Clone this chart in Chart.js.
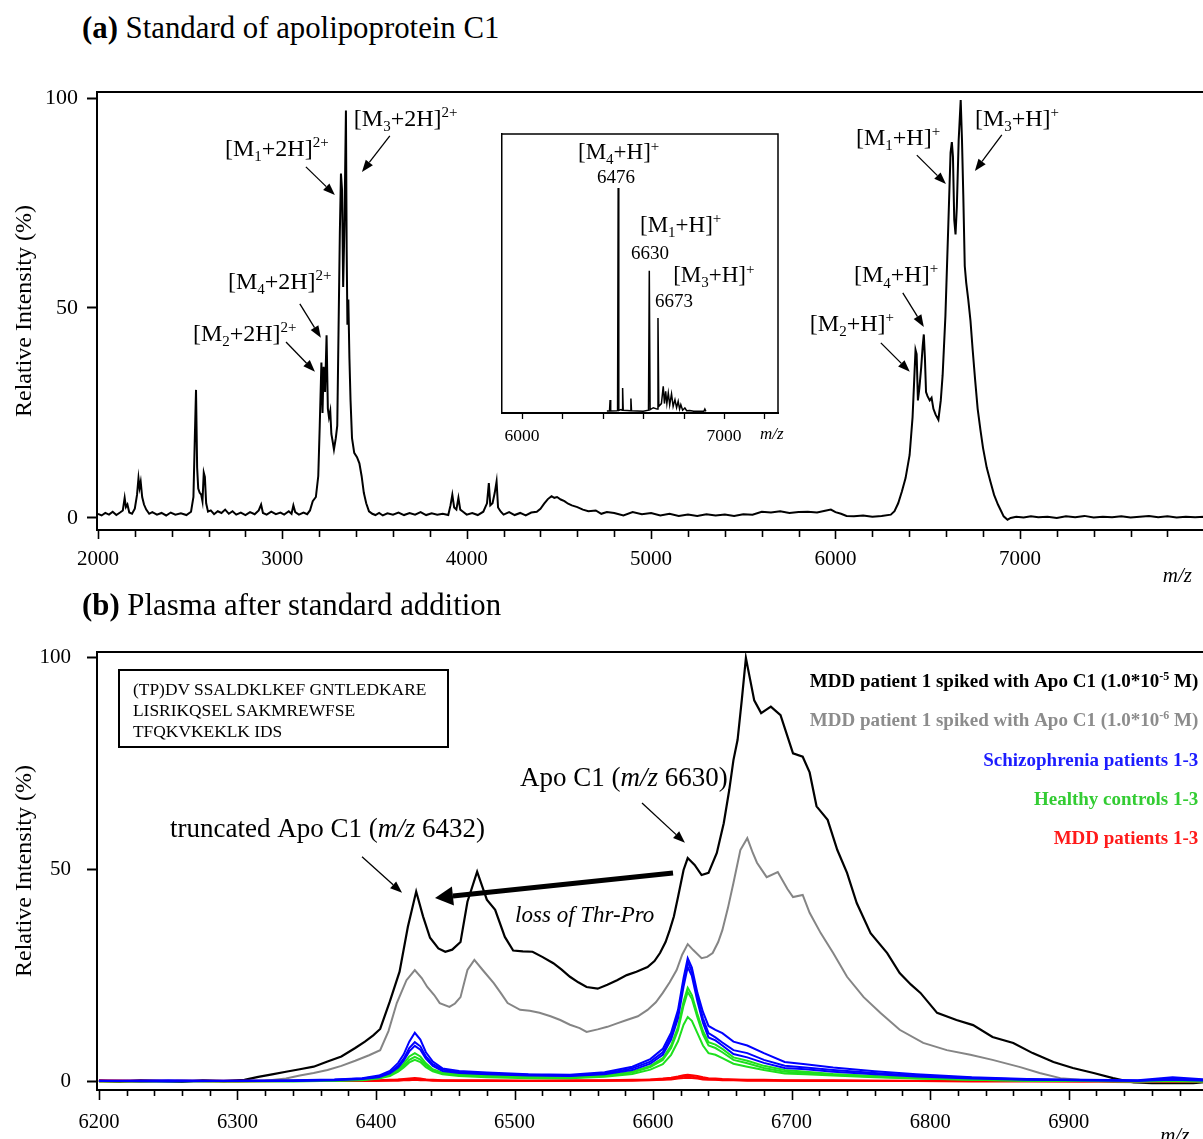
<!DOCTYPE html>
<html>
<head>
<meta charset="utf-8">
<script src="https://cdn.jsdelivr.net/npm/chart.js@4.4.1/dist/chart.umd.min.js"></script>
<style>
    html, body { margin: 0; padding: 0; background: #fff; }
    body { width: 1203px; height: 1139px; overflow: hidden; position: relative;
           font-family: "Liberation Serif", "Times New Roman", serif; }
    canvas { position: absolute; }
    .title { position: absolute; left: 82px; font-size: 30.8px; line-height: 1; white-space: nowrap; }
    .seq { position: absolute; left: 118px; top: 669px; width: 331px; height: 79px;
           border: 2px solid #000; box-sizing: border-box; font-size: 17.4px; line-height: 21px;
           padding: 8px 0 0 13px; white-space: nowrap; }
</style>
</head>
<body>
<div class="title" style="top:13px"><b>(a)</b> Standard of apolipoprotein C1</div>
<canvas id="chartA" width="1210" height="590" style="left:0;top:0"></canvas>
<canvas id="chartInset" width="310" height="330" style="left:490px;top:120px"></canvas>
<div class="title" style="top:590px"><b>(b)</b> Plasma after standard addition</div>
<canvas id="chartB" width="1210" height="549" style="left:0;top:590px"></canvas>
<div class="seq">(TP)DV SSALDKLKEF GNTLEDKARE<br>LISRIKQSEL SAKMREWFSE<br>TFQKVKEKLK IDS</div>

<script>
const FONT = '"Liberation Serif", "Times New Roman", serif';

// ---------- (a) standard of apolipoprotein C1 ----------
const aMz = [2000, 2020, 2040, 2060, 2080, 2100, 2120, 2135, 2145, 2152, 2160, 2170, 2185, 2200, 2212, 2220, 2226, 2232, 2240, 2250,
    2262, 2278, 2295, 2320, 2345, 2370, 2395, 2420, 2450, 2480, 2505, 2518, 2526, 2532, 2538, 2544, 2552, 2560, 2567, 2574,
    2580, 2587, 2597, 2612, 2630, 2650, 2670, 2690, 2710, 2730, 2750, 2775, 2800, 2825, 2850, 2872, 2885, 2895, 2915, 2940,
    2965, 2990, 3010, 3035, 3050, 3060, 3070, 3090, 3115, 3135, 3150, 3165, 3182, 3195, 3203, 3212, 3218, 3224, 3232, 3240,
    3247, 3253, 3260, 3266, 3272, 3280, 3290, 3298, 3305, 3312, 3318, 3324, 3330, 3337, 3345, 3349, 3353, 3358, 3364, 3370,
    3378, 3390, 3405, 3418, 3430, 3442, 3455, 3470, 3488, 3505, 3525, 3545, 3570, 3600, 3630, 3660, 3690, 3720, 3750, 3780,
    3810, 3840, 3870, 3900, 3912, 3922, 3932, 3944, 3955, 3965, 3980, 4000, 4030, 4060, 4090, 4110, 4120, 4128, 4140, 4152,
    4162, 4170, 4185, 4200, 4230, 4260, 4290, 4320, 4350, 4380, 4400, 4420, 4440, 4460, 4475, 4490, 4510, 4530, 4550, 4570,
    4600, 4630, 4660, 4700, 4730, 4760, 4800, 4850, 4900, 4950, 5000, 5050, 5100, 5150, 5200, 5250, 5300, 5350, 5400, 5450,
    5500, 5550, 5600, 5650, 5700, 5750, 5800, 5850, 5900, 5950, 5975, 6000, 6030, 6060, 6100, 6150, 6200, 6250, 6300, 6320,
    6340, 6360, 6380, 6402, 6418, 6427, 6434, 6440, 6447, 6455, 6465, 6473, 6479, 6485, 6491, 6499, 6511, 6521, 6531, 6543,
    6558, 6571, 6581, 6596, 6612, 6624, 6631, 6637, 6644, 6651, 6658, 6668, 6679, 6686, 6693, 6701, 6709, 6720, 6732, 6744,
    6757, 6771, 6786, 6800, 6820, 6840, 6860, 6881, 6900, 6912, 6933, 6950, 6980, 7020, 7060, 7100, 7150, 7200, 7250, 7300,
    7350, 7400, 7450, 7500, 7550, 7600, 7650, 7700, 7750, 7800, 7850, 7900, 7950, 8000, 8030];
const aInt = [1.0, 0.6, 1.2, 0.8, 1.5, 0.7, 1.3, 1.8, 4.8, 2.6, 3.2, 1.3, 1.0, 2.2, 5.5, 9.5, 7.2, 8.6, 5.0, 3.2,
    2.0, 1.0, 1.4, 0.8, 1.2, 0.6, 1.3, 0.8, 1.1, 0.7, 1.5, 5.0, 20, 30.5, 12, 7.0, 6.0, 5.6, 4.0, 10.8,
    9.8, 3.5, 1.5, 1.8, 0.9, 1.6, 1.2, 2.0, 1.0, 1.6, 0.8, 1.3, 0.7, 1.4, 0.9, 1.8, 3.2, 1.2, 0.8, 1.5,
    0.9, 1.3, 0.8, 1.6, 1.0, 3.0, 1.4, 0.8, 1.3, 0.9, 1.8, 4.0, 5.0, 10, 22, 37, 25, 36, 30, 43.5,
    26, 24, 25.5, 20, 18.5, 16.3, 19, 22, 45, 68, 82, 78, 55, 70, 97, 64, 46, 52, 38, 28,
    19, 15.5, 14.5, 13, 10, 6, 3.5, 1.6, 1.0, 0.7, 1.2, 0.6, 1.1, 0.8, 1.3, 0.7, 1.2, 0.8, 1.4, 0.7,
    1.1, 0.8, 1.0, 0.7, 3.0, 5.5, 2.5, 2.0, 4.8, 2.0, 1.5, 0.8, 1.2, 0.7, 1.5, 3.5, 8.3, 3.0, 3.5, 6.0,
    8.7, 2.5, 1.5, 0.8, 1.4, 0.7, 1.2, 0.6, 1.3, 1.5, 2.2, 3.4, 4.5, 5.2, 4.8, 5.0, 4.4, 4.0, 3.4, 3.0,
    2.6, 2.0, 1.6, 1.8, 1.0, 1.4, 1.2, 0.6, 1.4, 0.9, 1.2, 0.6, 1.0, 0.5, 0.8, 0.5, 0.9, 0.6, 0.8, 0.5,
    0.9, 0.8, 1.5, 1.3, 1.6, 1.2, 1.4, 1.5, 1.3, 1.8, 2.0, 1.4, 1.0, 0.5, 0.4, 0.6, 0.3, 0.5, 0.8, 1.6,
    3.5, 6.3, 9.5, 15, 24, 33, 40, 39, 28, 31, 36, 41, 43.7, 38, 30, 29, 28, 28.6, 26, 24.6,
    23.4, 28, 34, 48, 70, 87, 89.5, 86, 71, 67.5, 74, 90, 99.5, 90, 77, 60, 56, 52, 47, 40,
    33, 26, 21, 16.7, 12, 8.7, 5.5, 3.2, 1.5, 0.4, -0.4, 0.0, 0.3, 0.1, 0.4, 0.2, 0.3, 0.0, 0.4, 0.2,
    0.5, 0.1, 0.3, 0.2, 0.4, 0.1, 0.3, 0.5, 0.2, 0.4, 0.1, 0.3, 0.2, 0.3, 0.2];
const aTicks = [2000, 2200, 2400, 2600, 2800, 3000, 3200, 3400, 3600, 3800, 4000, 4200, 4400, 4600, 4800, 5000,
    5200, 5400, 5600, 5800, 6000, 6200, 6400, 6600, 6800, 7000, 7200, 7400, 7600, 7800, 8000];
const aLabels = [2000, 3000, 4000, 5000, 6000, 7000];

// inset: singly charged region, stick-like
const insetMz = [6420, 6433, 6436, 6439, 6470, 6473, 6476, 6479, 6490, 6495, 6498, 6501, 6520, 6536, 6539, 6542,
    6600, 6626, 6630, 6634, 6650, 6669, 6673, 6677, 6690, 6699, 6705, 6711, 6717, 6724, 6731, 6740, 6748, 6757, 6765,
    6773, 6780, 6786, 6795, 6806, 6815, 6830, 6850, 6900, 6905, 6910];
const insetInt = [0.3, 0.3, 4.3, 0.3, 0.4, 0.5, 80.6, 0.5, 0.8, 0.6, 8.6, 0.6, 0.5, 0.4, 4.8, 0.4,
    0.2, 0.6, 50.8, 0.8, 1.5, 1.0, 33.8, 2.0, 3.0, 9.2, 3.0, 7.4, 3.0, 6.8, 2.5, 6.5, 2.0, 4.4, 1.5,
    3.8, 1.0, 2.6, 0.6, 1.4, 0.4, 0.5, 0.2, 0.2, 1.0, 0.2];
const insetTicks = [6000, 6200, 6400, 6600, 6800, 7000, 7200];
const insetLabels = [6000, 7000];

// ---------- (b) plasma after standard addition ----------
const blackMz = [6200, 6215, 6230, 6245, 6260, 6275, 6290, 6305, 6315, 6325, 6335, 6345, 6355, 6365, 6375, 6385, 6392,
    6398, 6403, 6410, 6417, 6423, 6429, 6434, 6439, 6445, 6450, 6455, 6461, 6466, 6473, 6480, 6486, 6493, 6499, 6506,
    6513, 6520, 6528, 6534, 6540, 6546, 6552, 6560, 6567, 6574, 6581, 6588, 6596, 6601, 6605, 6609, 6612, 6615, 6618,
    6622, 6625, 6630, 6635, 6640, 6646, 6651, 6655, 6658, 6661, 6664, 6667, 6670, 6673, 6678, 6685, 6692, 6701, 6708,
    6713, 6718, 6726, 6733, 6740, 6747, 6757, 6769, 6778, 6786, 6793, 6805, 6819, 6831, 6845, 6860, 6874, 6889, 6903,
    6918, 6932, 6940, 6947, 6960, 6975, 6990, 7002];
const blackInt = [0.3, 0.0, 0.4, 0.2, 0.0, 0.4, 0.2, 0.5, 1.2, 1.8, 2.4, 3.0, 3.6, 4.8, 6.0, 8.0, 9.5,
    11, 12.5, 19, 26, 36.6, 44.9, 39, 34, 31.5, 30.7, 31.2, 33, 42.5, 49.6, 43, 40.6, 34.2, 31, 30.8,
    30.7, 29.5, 28, 26.5, 24.8, 23.5, 22.4, 22.0, 22.9, 24, 25.2, 26, 27.1, 28.5, 30.4, 33, 35.8, 39, 43.6,
    50, 52.8, 51.2, 48.8, 49.3, 54, 61, 68.9, 75.9, 80.7, 90, 100, 95, 90, 87, 88.5, 86.5, 77.5, 76.7,
    73, 65, 61.8, 54.7, 49.3, 42.2, 35.1, 30.4, 25.7, 23, 21, 16.3, 14.6, 13.4, 10.6, 9.2, 6.8, 4.7, 3.3,
    2.1, 0.9, 0.3, -0.1, -0.3, -0.2, -0.3, 0.1];

const greyMz = [6200, 6230, 6260, 6290, 6320, 6335, 6345, 6355, 6365, 6375, 6385, 6395, 6403, 6409, 6415, 6422, 6428,
    6433, 6437, 6442, 6446, 6453, 6457, 6461, 6466, 6471, 6477, 6485, 6490, 6495, 6504, 6511, 6518, 6526, 6533, 6540,
    6547, 6552, 6560, 6567, 6574, 6581, 6589, 6596, 6602, 6607, 6612, 6617, 6621, 6625, 6629, 6635, 6639, 6643, 6647,
    6650, 6654, 6658, 6663, 6668, 6672, 6675, 6682, 6690, 6697, 6701, 6708, 6713, 6721, 6730, 6740, 6752, 6764, 6778,
    6795, 6812, 6829, 6845, 6865, 6879, 6894, 6908, 6932, 6950, 6975, 7002];
const greyInt = [0.2, 0.0, 0.3, 0.1, 0.3, 0.8, 1.5, 2.1, 2.8, 3.8, 5.0, 6.3, 7.5, 12, 18.6, 24, 26.4,
    24.5, 22.4, 20.5, 18.6, 17.7, 18.5, 20, 26.4, 28.8, 26.4, 23.3, 21, 18.6, 17, 16.8, 16.3, 15.5, 14.6, 13.5,
    12.7, 11.8, 12.4, 13, 13.8, 14.6, 15.5, 17, 18.8, 21, 23.5, 26.4, 30, 32.5, 31.1, 29.2, 29.5, 30.4, 33,
    35.8, 41, 46.9, 54.7, 57.5, 54, 51.7, 48.3, 49.5, 45.5, 43.6, 44.1, 39.9, 35.1, 30.4, 24.8, 20, 16.3, 12.3,
    9.2, 7.5, 6.4, 5.2, 3.5, 2.1, 0.9, 0.5, 0.0, -0.1, 0.1, 0.0];

// patient groups share one m/z grid
const lowMz = [6200, 6250, 6300, 6340, 6370, 6390, 6402, 6410, 6416, 6420, 6424, 6428, 6432, 6436, 6441, 6448,
    6460, 6480, 6510, 6540, 6565, 6585, 6598, 6607, 6613, 6618, 6622, 6625, 6628, 6632, 6636, 6640,
    6645, 6650, 6658, 6668, 6680, 6695, 6710, 6730, 6760, 6790, 6830, 6870, 6910, 6950, 6975, 7002];
const schizo1 = [0.3, 0.2, 0.3, 0.4, 0.6, 0.9, 1.5, 2.6, 4.5, 6.5, 9.5, 11.6, 10, 7, 4.8, 3.2,
    2.6, 2.2, 1.8, 1.7, 2.3, 3.6, 5.4, 7.8, 11.6, 17, 24.5, 29.2, 27, 21, 16.5, 13.2,
    12.3, 11.5, 9.5, 8.6, 6.8, 4.7, 4.2, 3.4, 2.5, 1.8, 1.1, 0.7, 0.5, 0.4, 1.1, 0.5];
const schizo2 = [0.2, 0.4, 0.2, 0.3, 0.5, 0.8, 1.3, 2.2, 3.8, 5.5, 8.0, 9.4, 8.4, 6, 4.2, 2.9,
    2.3, 2.0, 1.7, 1.5, 2.0, 3.2, 4.8, 7, 10.8, 16, 23.5, 28.3, 26, 20, 15, 11.5,
    10.5, 9.3, 7.5, 6.8, 5.2, 3.8, 3.4, 2.8, 2.1, 1.5, 1.0, 0.6, 0.4, 0.3, 0.8, 0.4];
const schizo3 = [0.3, 0.1, 0.3, 0.2, 0.4, 0.7, 1.1, 2.0, 3.4, 5.0, 7.2, 8.5, 7.6, 5.5, 3.8, 2.6,
    2.1, 1.8, 1.5, 1.4, 1.8, 2.8, 4.3, 6.4, 10, 15, 22.5, 27.1, 25, 19, 14, 10.5,
    9.8, 8.6, 6.6, 5.8, 4.5, 3.3, 3.0, 2.4, 1.8, 1.3, 0.8, 0.5, 0.4, 0.3, 0.5, 0.3];
const healthy1 = [0.2, 0.1, 0.2, 0.3, 0.4, 0.6, 1.0, 1.8, 3.0, 4.3, 6.0, 6.8, 6.0, 4.4, 3.0, 2.2,
    1.8, 1.5, 1.2, 1.1, 1.5, 2.4, 3.8, 5.6, 8.6, 13, 19, 22.2, 20.5, 16, 12, 9.4,
    8.8, 7.8, 5.8, 5.0, 3.8, 2.8, 2.4, 1.9, 1.4, 1.0, 0.6, 0.4, 0.3, 0.2, 0.2, 0.2];
const healthy2 = [0.2, 0.2, 0.1, 0.2, 0.3, 0.5, 0.9, 1.6, 2.7, 3.8, 5.2, 5.9, 5.3, 4.0, 2.8, 2.0,
    1.6, 1.3, 1.1, 1.0, 1.4, 2.2, 3.5, 5.2, 8.0, 12.2, 18, 21.2, 19.6, 15.2, 11.2, 8.6,
    8.0, 7.0, 5.2, 4.4, 3.3, 2.4, 2.1, 1.7, 1.2, 0.9, 0.5, 0.3, 0.2, 0.2, 0.2, 0.1];
const healthy3 = [0.1, 0.2, 0.2, 0.1, 0.3, 0.4, 0.8, 1.4, 2.4, 3.4, 4.6, 5.2, 4.7, 3.5, 2.5, 1.8,
    1.4, 1.1, 0.9, 0.9, 1.2, 1.9, 2.9, 4.2, 6.4, 9.6, 13.5, 15.3, 14.4, 11.5, 8.6, 6.8,
    6.4, 5.6, 4.3, 3.6, 2.8, 2.0, 1.8, 1.5, 1.1, 0.8, 0.5, 0.3, 0.2, 0.1, 0.2, 0.1];
const mdd1 = [0.4, 0.2, 0.3, 0.2, 0.3, 0.4, 0.4, 0.5, 0.6, 0.7, 0.8, 0.9, 0.8, 0.6, 0.5, 0.4,
    0.4, 0.4, 0.3, 0.4, 0.4, 0.5, 0.6, 0.8, 1.0, 1.3, 1.6, 1.7, 1.6, 1.4, 1.1, 0.9,
    0.8, 0.7, 0.6, 0.5, 0.5, 0.4, 0.4, 0.4, 0.3, 0.3, 0.3, 0.2, 0.2, 0.2, 0.1, 0.2];
const mdd2 = [0.2, 0.3, 0.2, 0.3, 0.2, 0.3, 0.3, 0.4, 0.5, 0.5, 0.6, 0.7, 0.6, 0.5, 0.4, 0.3,
    0.3, 0.3, 0.3, 0.3, 0.3, 0.4, 0.5, 0.6, 0.8, 1.0, 1.2, 1.3, 1.2, 1.0, 0.8, 0.7,
    0.6, 0.5, 0.5, 0.4, 0.4, 0.3, 0.3, 0.3, 0.3, 0.2, 0.2, 0.2, 0.1, 0.2, 0.1, 0.1];
const mdd3 = [0.1, 0.2, 0.1, 0.2, 0.2, 0.2, 0.3, 0.3, 0.3, 0.4, 0.4, 0.5, 0.4, 0.4, 0.3, 0.3,
    0.2, 0.2, 0.2, 0.2, 0.3, 0.3, 0.4, 0.5, 0.6, 0.8, 0.9, 1.0, 0.9, 0.8, 0.6, 0.5,
    0.5, 0.4, 0.4, 0.3, 0.3, 0.3, 0.2, 0.2, 0.2, 0.2, 0.1, 0.1, 0.1, 0.1, 0.1, 0.1];
const bMajor = [6200, 6300, 6400, 6500, 6600, 6700, 6800, 6900];

const zip = (xs, ys) => xs.map((x, i) => ({ x, y: ys[i] }));

// ---------- drawing helpers ----------
function drawRich(ctx, parts, x, y, size, align, color, style) {
    const fontFor = (p) => `${p[2] || style || ''} ${p[1] ? Math.round(size * 0.64) : size}px ${FONT}`;
    let total = 0;
    parts.forEach(p => { ctx.font = fontFor(p); total += ctx.measureText(p[0]).width; });
    let cx = align === 'right' ? x - total : (align === 'center' ? x - total / 2 : x);
    const base = y + size * 0.32;
    ctx.fillStyle = color || '#000';
    ctx.textAlign = 'left';
    ctx.textBaseline = 'alphabetic';
    parts.forEach(p => {
        ctx.font = fontFor(p);
        const dy = p[1] === 'sub' ? size * 0.22 : (p[1] === 'sup' ? -size * 0.38 : 0);
        ctx.fillText(p[0], cx, base + dy);
        cx += ctx.measureText(p[0]).width;
    });
}

function drawArrow(ctx, x1, y1, x2, y2, w, hl, hw) {
    const ang = Math.atan2(y2 - y1, x2 - x1);
    const bx = x2 - hl * Math.cos(ang), by = y2 - hl * Math.sin(ang);
    ctx.strokeStyle = '#000';
    ctx.lineWidth = w;
    ctx.beginPath(); ctx.moveTo(x1, y1); ctx.lineTo(bx, by); ctx.stroke();
    ctx.fillStyle = '#000';
    ctx.beginPath();
    ctx.moveTo(x2, y2);
    ctx.lineTo(bx + hw / 2 * Math.sin(ang), by - hw / 2 * Math.cos(ang));
    ctx.lineTo(bx - hw / 2 * Math.sin(ang), by + hw / 2 * Math.cos(ang));
    ctx.closePath(); ctx.fill();
}

// annotations given in data units, placed through the chart's own scales
function notesPlugin(cfg) {
    return {
        id: 'notes',
        afterDatasetsDraw(chart) {
            const { ctx, scales: { x, y } } = chart;
            ctx.save();
            (cfg.arrows || []).forEach(a => drawArrow(ctx,
                x.getPixelForValue(a.from[0]), y.getPixelForValue(a.from[1]),
                x.getPixelForValue(a.to[0]), y.getPixelForValue(a.to[1]),
                a.w || 1.3, a.hl || 12, a.hw || 9));
            (cfg.labels || []).forEach(l => drawRich(ctx, l.parts,
                x.getPixelForValue(l.x), y.getPixelForValue(l.y),
                l.size, l.align || 'left', l.color, l.style));
            ctx.restore();
        }
    };
}

// tick marks under the x axis, longer on labelled values
function xTickPlugin(major, majLen, minLen, width) {
    return {
        id: 'xTickMarks',
        afterDraw(chart) {
            const s = chart.scales.x, ctx = chart.ctx;
            ctx.save();
            ctx.strokeStyle = '#000';
            ctx.lineWidth = width;
            s.ticks.forEach(t => {
                const px = Math.round(s.getPixelForValue(t.value)) + 0.5;
                const len = t.value % major === 0 ? majLen : minLen;
                ctx.beginPath(); ctx.moveTo(px, s.top); ctx.lineTo(px, s.top + len); ctx.stroke();
            });
            ctx.restore();
        }
    };
}

function framePlugin(width, right) {
    return {
        id: 'frame',
        afterDraw(chart) {
            const { ctx, chartArea: a } = chart;
            ctx.save();
            ctx.strokeStyle = '#000';
            ctx.lineWidth = width;
            ctx.beginPath();
            ctx.moveTo(a.left - width / 2, a.top); ctx.lineTo(a.right, a.top);
            if (right) ctx.lineTo(a.right, a.bottom + width / 2);
            ctx.stroke();
            ctx.restore();
        }
    };
}

const M = (n, tail, charge) => [['[M'], [n, 'sub'], [tail], [charge, 'sup']];

function yAxis(min, max, pad, size) {
    return {
        min: min, max: max,
        afterBuildTicks: s => { s.ticks = [0, 50, 100].map(v => ({ value: v })); },
        afterFit: s => { s.width = 97; s.paddingTop = 0; s.paddingBottom = 0; },
        grid: { display: true, drawOnChartArea: false, tickLength: 10, tickWidth: 2, tickColor: '#000' },
        border: { display: true, width: 2, color: '#000' },
        ticks: { font: { family: FONT, size: size }, color: '#000', padding: pad },
        title: { display: true, text: 'Relative Intensity (%)', color: '#000',
                 font: { family: FONT, size: 24 }, padding: { top: 10, bottom: 0 } }
    };
}

function xAxis(min, max, ticks, labels, height, pad, size) {
    return {
        type: 'linear', min: min, max: max,
        afterBuildTicks: s => { s.ticks = ticks.map(v => ({ value: v })); },
        afterFit: s => { s.height = height; s.paddingLeft = 0; s.paddingRight = 0; },
        grid: { display: false },
        border: { display: true, width: 2, color: '#000' },
        ticks: { autoSkip: false, maxRotation: 0, padding: pad, color: '#000',
                 font: { family: FONT, size: size },
                 callback: v => labels.includes(v) ? String(v) : '' }
    };
}

const baseOptions = {
    responsive: false,
    animation: false,
    devicePixelRatio: 1,
    plugins: { legend: { display: false }, tooltip: { enabled: false } },
    elements: { point: { radius: 0 }, line: { tension: 0 } }
};

// ---------- chart (a) ----------
const notesA = {
    labels: [
        { x: 2689, y: 88.1, size: 24, parts: M('1', '+2H]', '2+') },
        { x: 3388, y: 95.2, size: 24, parts: M('3', '+2H]', '2+') },
        { x: 2705, y: 56.4, size: 24, parts: M('4', '+2H]', '2+') },
        { x: 2515, y: 44.0, size: 24, parts: M('2', '+2H]', '2+') },
        { x: 6111, y: 90.7, size: 24, parts: M('1', '+H]', '+') },
        { x: 6756, y: 95.2, size: 24, parts: M('3', '+H]', '+') },
        { x: 6100, y: 57.9, size: 24, parts: M('4', '+H]', '+') },
        { x: 5861, y: 46.4, size: 24, parts: M('2', '+H]', '+') },
        { x: 7775, y: -13.6, size: 21, parts: [['m/z']], style: 'italic' }
    ],
    arrows: [
        { from: [3128, 83.6], to: [3285, 76.9] },
        { from: [3583, 91.0], to: [3432, 82.4] },
        { from: [3095, 51.0], to: [3209, 42.9] },
        { from: [3020, 41.9], to: [3177, 34.8] },
        { from: [6441, 86.4], to: [6599, 79.5] },
        { from: [6902, 91.2], to: [6756, 82.6] },
        { from: [6365, 53.6], to: [6479, 45.5] },
        { from: [6246, 41.7], to: [6403, 34.8] }
    ]
};

new Chart(document.getElementById('chartA'), {
    type: 'line',
    data: { datasets: [{ data: zip(aMz, aInt), borderColor: '#000', borderWidth: 2 }] },
    options: Object.assign({}, baseOptions, {
        layout: { padding: { top: 92, right: 0, left: 0, bottom: 0 } },
        scales: {
            x: xAxis(1995, 8031, aTicks, aLabels, 60, 9, 21),
            y: yAxis(-2.86, 101.43, 9, 22)
        }
    }),
    plugins: [notesPlugin(notesA), xTickPlugin(1000, 9, 7, 1.6), framePlugin(2, false)]
});

// ---------- inset ----------
const notesInset = {
    labels: [
        { x: 6277, y: 93.5, size: 23, parts: M('4', '+H]', '+') },
        { x: 6371, y: 84.5, size: 19, parts: [['6476']] },
        { x: 6584, y: 67.3, size: 23, parts: M('1', '+H]', '+') },
        { x: 6540, y: 57.2, size: 19, parts: [['6630']] },
        { x: 6748, y: 49.3, size: 23, parts: M('3', '+H]', '+') },
        { x: 6658, y: 39.9, size: 19, parts: [['6673']] },
        { x: 7178, y: -7.9, size: 17, parts: [['m/z']], style: 'italic' }
    ]
};

new Chart(document.getElementById('chartInset'), {
    type: 'line',
    data: { datasets: [{ data: zip(insetMz, insetInt), borderColor: '#000', borderWidth: 1.5 }] },
    options: Object.assign({}, baseOptions, {
        layout: { padding: { top: 14, right: 22, left: 0, bottom: 0 } },
        scales: {
            x: xAxis(5901, 7267, insetTicks, insetLabels, 37, 5, 17.5),
            y: {
                min: -0.4, max: 100,
                afterFit: s => { s.width = 12; s.paddingTop = 0; s.paddingBottom = 0; },
                grid: { display: false },
                ticks: { display: false },
                border: { display: true, width: 1.5, color: '#000' }
            }
        }
    }),
    plugins: [notesPlugin(notesInset), xTickPlugin(1000, 6, 6, 1.3), framePlugin(1.5, true)]
});

// ---------- chart (b) ----------
const bTicks = [];
for (let v = 6200; v <= 7000; v += 20) bTicks.push(v);

const notesB = {
    labels: [
        { x: 6251.3, y: 59.9, size: 27, parts: [['truncated Apo C1 ('], ['m/z', '', 'italic'], [' 6432)']] },
        { x: 6504, y: 71.9, size: 27, parts: [['Apo C1 ('], ['m/z', '', 'italic'], [' 6630)']] },
        { x: 6500.4, y: 39.4, size: 23, parts: [['loss of Thr-Pro']], style: 'italic' },
        { x: 6993.5, y: 94.6, size: 19, align: 'right', style: 'bold', color: '#000',
          parts: [['MDD patient 1 spiked with Apo C1 (1.0*10'], ['-5', 'sup'], [' M)']] },
        { x: 6993.5, y: 85.4, size: 19, align: 'right', style: 'bold', color: '#8c8c8c',
          parts: [['MDD patient 1 spiked with Apo C1 (1.0*10'], ['-6', 'sup'], [' M)']] },
        { x: 6993.5, y: 75.9, size: 19, align: 'right', style: 'bold', color: '#1c1cff',
          parts: [['Schizophrenia patients 1-3']] },
        { x: 6993.5, y: 66.7, size: 19, align: 'right', style: 'bold', color: '#33cc33',
          parts: [['Healthy controls 1-3']] },
        { x: 6993.5, y: 57.5, size: 19, align: 'right', style: 'bold', color: '#ff1a1a',
          parts: [['MDD patients 1-3']] },
        { x: 6966, y: -12.5, size: 21, parts: [['m/z']], style: 'italic' }
    ],
    arrows: [
        { from: [6389.9, 53.1], to: [6418.8, 44.6] },
        { from: [6592, 65.8], to: [6623, 56.4] },
        { from: [6614.4, 49.3], to: [6442.6, 43.4], w: 5, hl: 18, hw: 19 }
    ]
};

const line = (xs, ys, color, width, order) => ({ data: zip(xs, ys), borderColor: color, borderWidth: width, order: order });

new Chart(document.getElementById('chartB'), {
    type: 'line',
    data: {
        datasets: [
            line(blackMz, blackInt, '#000', 2.2, 9),
            line(greyMz, greyInt, '#858585', 2, 8),
            line(lowMz, mdd1, '#ff0000', 2, 7),
            line(lowMz, mdd2, '#ff0000', 2, 7),
            line(lowMz, mdd3, '#ff0000', 2, 7),
            line(lowMz, healthy1, '#1ee01e', 2, 5),
            line(lowMz, healthy2, '#1ee01e', 2, 5),
            line(lowMz, healthy3, '#1ee01e', 2, 5),
            line(lowMz, schizo1, '#0000ff', 2, 2),
            line(lowMz, schizo2, '#0000ff', 2, 2),
            line(lowMz, schizo3, '#0000ff', 2, 2)
        ]
    },
    options: Object.assign({}, baseOptions, {
        layout: { padding: { top: 62, right: 0, left: 0, bottom: 0 } },
        scales: {
            x: xAxis(6198.6, 7002, bTicks, bMajor, 49, 12, 20.5),
            y: yAxis(-1.9, 101.4, 16, 21)
        }
    }),
    plugins: [notesPlugin(notesB), xTickPlugin(100, 10, 6, 1.6), framePlugin(2, false)]
});
</script>
</body>
</html>
